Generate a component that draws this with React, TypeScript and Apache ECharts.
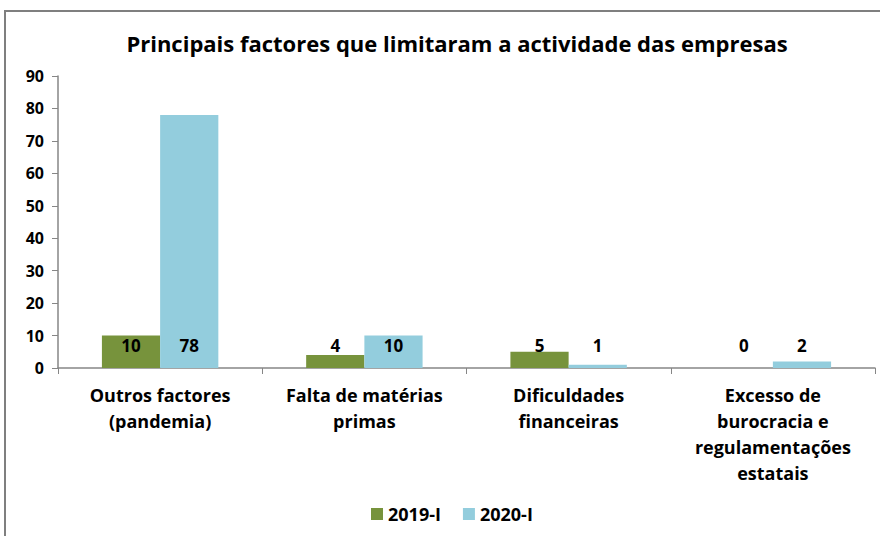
import React, { useEffect, useRef } from "react";
import * as echarts from "echarts";

const categories = [
  "Outros factores\n(pandemia)",
  "Falta de matérias\nprimas",
  "Dificuldades\nfinanceiras",
  "Excesso de\nburocracia e\nregulamentações\nestatais",
];
const series2019 = [10, 4, 5, 0];
const series2020 = [78, 10, 1, 2];
const seriesNames = ["2019-I", "2020-I"];
const yTicks = { min: 0, max: 90, interval: 10 };

const FONT = "Open Sans";

export default function App() {
  const ref = useRef<HTMLDivElement>(null);
  useEffect(() => {
    if (!ref.current) return;
    const chart = echarts.init(ref.current, undefined, { renderer: "svg" });
    const labelStyle = {
      show: true,
      position: "insideBottom" as const,
      distance: 14,
      color: "#000",
      fontFamily: FONT,
      fontWeight: "bold" as const,
      fontSize: 17,
    };
    chart.setOption({
      animation: false,
      backgroundColor: "#fff",
      title: {
        text: "Principais factores que limitaram a actividade das empresas",
        left: 452,
        textAlign: "center",
        top: 27,
        textStyle: { fontFamily: FONT, fontWeight: "bold", fontSize: 22, color: "#000" },
      },
      graphic: [
        {
          type: "rect",
          shape: { x: 5, y: 11, width: 900, height: 600 },
          style: { fill: "none", stroke: "#7f7f7f", lineWidth: 2 },
          silent: true,
          z: 100,
        },
      ],
      legend: {
        bottom: 8,
        left: 366,
        itemWidth: 12,
        itemHeight: 12,
        itemGap: 22,
        icon: "rect",
        textStyle: { fontFamily: FONT, fontWeight: "bold", fontSize: 18, color: "#000" },
        data: seriesNames,
      },
      grid: { left: 58, right: 5, top: 76, bottom: 168, containLabel: false },
      xAxis: {
        type: "category",
        data: categories,
        axisLine: { lineStyle: { color: "#868686", width: 1.5 } },
        axisTick: { show: true, length: 6, lineStyle: { color: "#868686" } },
        axisLabel: {
          interval: 0,
          margin: 14,
          lineHeight: 26,
          fontFamily: FONT,
          fontWeight: "bold",
          fontSize: 18,
          color: "#000",
        },
      },
      yAxis: {
        type: "value",
        min: yTicks.min,
        max: yTicks.max,
        interval: yTicks.interval,
        axisLine: { show: true, lineStyle: { color: "#868686", width: 1.5 } },
        axisTick: { show: true, length: 6, lineStyle: { color: "#868686" } },
        splitLine: { show: false },
        axisLabel: {
          margin: 14,
          fontFamily: FONT,
          fontWeight: "bold",
          fontSize: 16,
          color: "#000",
        },
      },
      series: [
        {
          name: seriesNames[0],
          type: "bar",
          data: series2019,
          barGap: "0%",
          barCategoryGap: "43%",
          itemStyle: { color: "#77933C" },
          label: labelStyle,
        },
        {
          name: seriesNames[1],
          type: "bar",
          data: series2020,
          barGap: "0%",
          barCategoryGap: "43%",
          itemStyle: { color: "#93CDDD" },
          label: labelStyle,
        },
      ],
    });
    return () => chart.dispose();
  }, []);
  return (
    <div
      ref={ref}
      style={{ width: 880, height: 536, position: "absolute", left: 0, top: 0 }}
    />
  );
}
